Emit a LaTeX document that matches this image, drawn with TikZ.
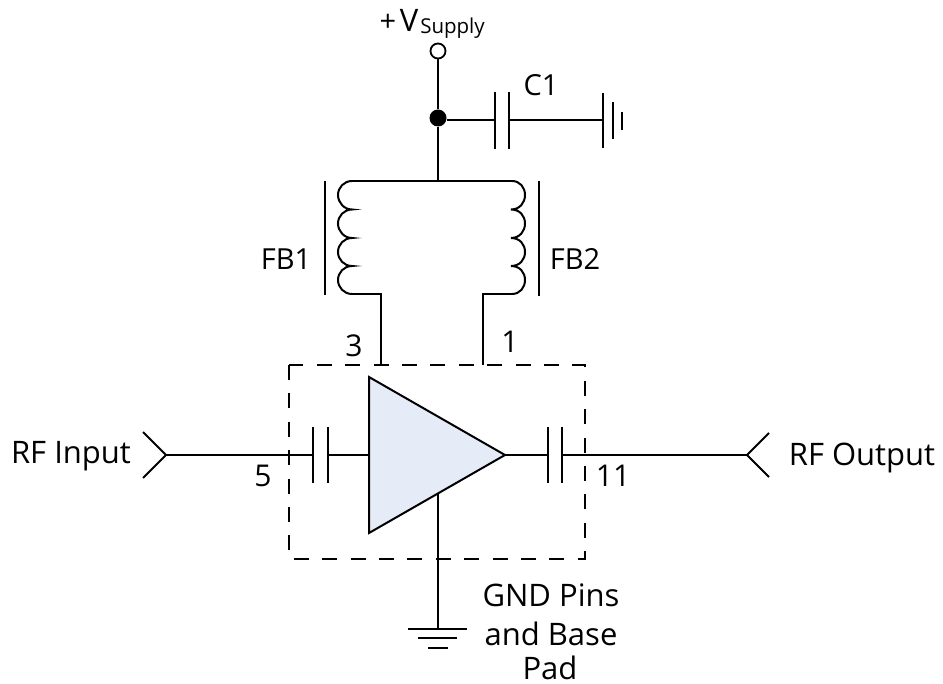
\documentclass[tikz,border=0pt]{standalone}
\usepackage{fontspec}
\setmainfont{Open Sans}
\definecolor{ampfill}{HTML}{E6ECF7}
\tikzset{
  wire/.style={line width=2pt,black},
  plate/.style={line width=2pt,black},
  lbl/.style={inner sep=0pt,font=\fontsize{31}{35}\selectfont,text=black},
  fblbl/.style={inner sep=0pt,font=\fontsize{29}{33}\selectfont,text=black},
  numlbl/.style={inner sep=0pt,font=\fontsize{30}{34}\selectfont,text=black},
  pkg/.style={line width=1.8pt,dash pattern=on 15pt off 13.4pt},
  amp/.style={line width=2pt,fill=ampfill},
}
\begin{document}
\begin{tikzpicture}[x=1pt,y=-1pt]
\useasboundingbox (0,0) rectangle (943,684);
% package outline
\draw[pkg] (289,365) rectangle (585,559);
% named points
\coordinate (topL) at (352,181);
\coordinate (topM) at (438,181);
\coordinate (topR) at (512,181);
\coordinate (botL) at (352,294);
\coordinate (botR) at (512,294);
\coordinate (pin3) at (381,365);
\coordinate (pin1) at (483,365);
\coordinate (inTip) at (166,455);
\coordinate (outTip) at (747,455);
\coordinate (c1a) at (494.5,120);
\coordinate (c1b) at (509,120);
\coordinate (gndR) at (603,120);
\coordinate (cinA) at (313,455);
\coordinate (cinB) at (327.5,455);
\coordinate (coutA) at (548,455);
\coordinate (coutB) at (562,455);
\coordinate (ampIn) at (369,455);
\coordinate (ampOut) at (505,455);
\coordinate (ampGnd) at (438,493);
\coordinate (gndB) at (438,628);
% amplifier
\draw[amp,line join=miter] (369,377) -- (505,455) -- (369,533) -- cycle;
% supply
\node[circle,draw,line width=1.8pt,fill=white,minimum size=15pt,inner sep=0pt] (vs) at (438,51) {};
\node[circle,fill=black,minimum size=17pt,inner sep=0pt] (junc) at (438,118) {};
\draw[wire] (vs) -- (junc);
\draw[wire] (junc) -- (topM);
\draw[wire] (junc.east |- c1a) -- (c1a);
\draw[wire] (c1b) -- (gndR);
% C1
\draw[plate] (494.5,92) -- (494.5,149);
\draw[plate] (509,92) -- (509,149);
% battery-style ground
\draw[plate] (603,93) -- (603,148);
\draw[plate] (612.5,102) -- (612.5,139);
\draw[plate] (622,112) -- (622,130);
% top rail
\draw[wire] (topL) -- (topR);
% left coil
\draw[wire] (topL)
  .. controls (344,181) and (338,187.5) .. (338,195)
  .. controls (338,202.5) and (344,209.5) .. (352,209.5)
  .. controls (344,209.5) and (338,216) .. (338,223.5)
  .. controls (338,231) and (344,238) .. (352,238)
  .. controls (344,238) and (338,244.5) .. (338,252)
  .. controls (338,259.5) and (344,266) .. (352,266)
  .. controls (344,266) and (338,272.5) .. (338,280)
  .. controls (338,287.5) and (344,294) .. (botL);
% right coil
\draw[wire] (topR)
  .. controls (520,181) and (525,187.5) .. (525,195)
  .. controls (525,202.5) and (520,209.5) .. (511,209.5)
  .. controls (520,209.5) and (525,216) .. (525,223.5)
  .. controls (525,231) and (520,238) .. (511,238)
  .. controls (520,238) and (525,244.5) .. (525,252)
  .. controls (525,259.5) and (520,266) .. (511,266)
  .. controls (520,266) and (525,272.5) .. (525,280)
  .. controls (525,287.5) and (520,294) .. (botR);
% ferrite bars
\draw[plate] (324.5,181) -- (324.5,295);
\draw[plate] (539,181) -- (539,296);
% coil leads
\draw[wire] (botL) -- (381,294) -- (pin3);
\draw[wire] (botR) -- (483,294) -- (pin1);
% input
\draw[wire] (143,432) -- (inTip) -- (143,478);
\draw[wire] (inTip) -- (cinA);
\draw[plate] (313,427) -- (313,483);
\draw[plate] (327.5,427) -- (327.5,483);
\draw[wire] (cinB) -- (ampIn);
% output
\draw[wire] (ampOut) -- (coutA);
\draw[plate] (548,427) -- (548,483);
\draw[plate] (562,427) -- (562,483);
\draw[wire] (coutB) -- (outTip);
\draw[wire] (769,433) -- (outTip) -- (769,477);
% ground
\draw[wire] (ampGnd) -- (gndB);
\draw[plate] (408,628.5) -- (467,628.5);
\draw[plate] (418,638) -- (457,638);
\draw[plate] (428,647.5) -- (448,647.5);
% labels
\node[inner sep=0pt,anchor=base,text=black] (tp) at (388,32) {\fontsize{29}{33}\selectfont +};
\node[inner sep=0pt,anchor=base,text=black] (tV) at (409,32) {\fontsize{31}{35}\selectfont V};
\node[inner sep=0pt,anchor=base,text=black] (tS) at (452.5,34) {\fontsize{20.5}{24}\selectfont Supply};
\node[fblbl,anchor=base] (tc) at (541,96) {C1};
\node[fblbl,anchor=base] (tf1) at (286,270) {FB1};
\node[fblbl,anchor=base] (tf2) at (575,270) {FB2};
\node[numlbl,anchor=base] (t3) at (354,357) {3};
\node[numlbl,anchor=base] (t1) at (510,353) {1};
\node[numlbl,anchor=base] (t5) at (263,487) {5};
\node[numlbl,anchor=base] (t11) at (613,487) {11};
\node[lbl,anchor=base] (tin) at (71,464) {RF Input};
\node[lbl,anchor=base] (tout) at (862,466) {RF Output};
\node[lbl,anchor=base] (tg1) at (551,606) {GND Pins};
\node[lbl,anchor=base] (tg2) at (551,645) {and Base};
\node[lbl,anchor=base] (tg3) at (550,679) {Pad};
\end{tikzpicture}
\end{document}
